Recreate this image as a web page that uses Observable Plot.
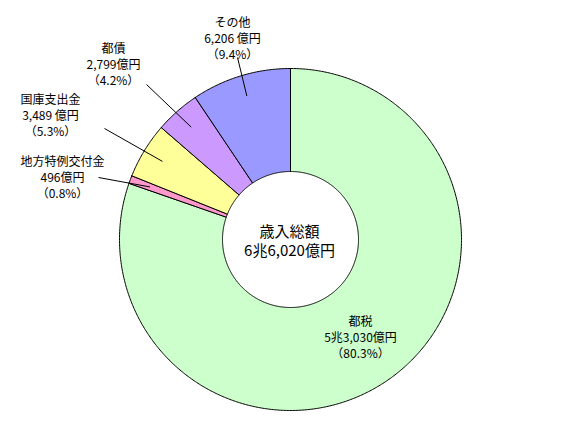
<!DOCTYPE html>
<html>
<head>
<meta charset="utf-8">
<script src="https://cdn.jsdelivr.net/npm/d3@7"></script>
<script src="https://cdn.jsdelivr.net/npm/@observablehq/plot@0.6"></script>
<style>
  html, body { margin: 0; padding: 0; background: #fff; }
  #chart svg { display: block; }
</style>
</head>
<body>
<div id="chart"></div>
<script>
// ---- data ----
const categories = ["都税", "地方特例交付金", "国庫支出金", "都債", "その他"];
const values = [53030, 496, 3489, 2799, 6206];           // 億円
const amountLabels = ["5兆3,030億円", "496億円", "3,489 億円", "2,799億円", "6,206 億円"];
const percentLabels = ["（80.3%）", "（0.8%）", "（5.3%）", "（4.2%）", "（9.4%）"];
const totalLabel = ["歳入総額", "6兆6,020億円"];
const colors = ["#CCFFCC", "#FF99CC", "#FFFF99", "#CC99FF", "#9999FF"];

// ---- layout (pixels) ----
const W = 563, H = 432;
const cx = 290, cy = 239, R = 171, r = 68;
// label block centre (middle line) and leader outer end per category
const labelLayout = [
  {tx: 360, ty: 336, leader: null},
  {tx: 62,  ty: 176, leader: [98, 177]},
  {tx: 50,  ty: 114, leader: [104, 128]},
  {tx: 113, ty: 63,  leader: [146, 84]},
  {tx: 232, ty: 37,  leader: [237, 57]}
];
const leaderRadius = 150;

const table = categories.map((name, i) => ({name, value: values[i]}));
const pie = d3.pie().value(d => d.value).sort(null).startAngle(0).endAngle(2 * Math.PI);
const arcs = pie(table);

const pt = (a, rho) => [cx + rho * Math.sin(a), cy - rho * Math.cos(a)];

// polygon vertices for each slice, derived from the pie angles
const polyPoints = [];
arcs.forEach(a => {
  const n = Math.max(2, Math.ceil((a.endAngle - a.startAngle) / (Math.PI / 360)));
  const ring = [];
  for (let k = 0; k <= n; k++) ring.push(pt(a.startAngle + (a.endAngle - a.startAngle) * k / n, R));
  for (let k = n; k >= 0; k--) ring.push(pt(a.startAngle + (a.endAngle - a.startAngle) * k / n, r));
  ring.push(ring[0]);
  ring.forEach(([x, y]) => polyPoints.push({name: a.data.name, x, y}));
});

const labels = arcs.map((a, i) => ({
  name: a.data.name,
  text: `${a.data.name}\n${amountLabels[i]}\n${percentLabels[i]}`,
  x: labelLayout[i].tx, y: labelLayout[i].ty
}));

const leaders = arcs.map((a, i) => {
  if (!labelLayout[i].leader) return null;
  const mid = (a.startAngle + a.endAngle) / 2;
  const [x2, y2] = pt(mid, leaderRadius);
  return {x1: labelLayout[i].leader[0], y1: labelLayout[i].leader[1], x2, y2};
}).filter(Boolean);

const font = "'Noto Sans CJK JP', 'Noto Sans', sans-serif";

const chart = Plot.plot({
  width: W, height: H, margin: 0,
  style: {fontFamily: font, background: "#fff"},
  x: {domain: [0, W], range: [0, W], axis: null},
  y: {domain: [0, H], range: [0, H], axis: null},
  color: {domain: categories, range: colors},
  marks: [
    Plot.line(polyPoints, {x: "x", y: "y", z: "name", fill: "name", stroke: "black", strokeWidth: 1, curve: "linear"}),
    Plot.link(leaders, {x1: "x1", y1: "y1", x2: "x2", y2: "y2", stroke: "black", strokeWidth: 1}),
    Plot.text(labels, {x: "x", y: "y", text: "text", fontSize: 12, lineHeight: 1.34, textAnchor: "middle", lineAnchor: "middle", fill: "black"}),
    Plot.text([totalLabel.join("\n")], {x: () => cx - 1, y: () => cy + 1, text: d => d, fontSize: 15, lineHeight: 1.27, textAnchor: "middle", lineAnchor: "middle", fill: "black"})
  ]
});
chart.querySelectorAll("text").forEach(t => { if (t.getAttribute("font-size") === "12") t.setAttribute("letter-spacing", "0.4"); });
document.getElementById("chart").append(chart);
</script>
</body>
</html>
